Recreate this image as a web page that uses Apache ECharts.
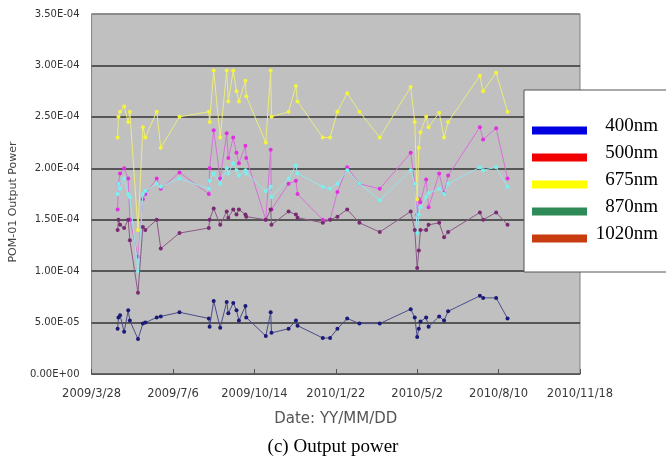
<!DOCTYPE html>
<html>
<head>
<meta charset="utf-8">
<script src="https://cdn.jsdelivr.net/npm/echarts@6/dist/echarts.min.js"></script>
<style>
  html, body { margin: 0; padding: 0; background: #fff; }
  #chart { width: 666px; height: 462px; }
</style>
</head>
<body>
<div id="chart"></div>
<script>
// measurement dates
const dates = [
  '2009/4/29', '2009/4/30', '2009/5/2', '2009/5/7', '2009/5/12', '2009/5/14', '2009/5/24', '2009/5/30',
  '2009/6/2', '2009/6/16', '2009/6/21', '2009/7/14',
  '2009/8/19', '2009/8/20', '2009/8/25', '2009/9/2', '2009/9/10', '2009/9/12', '2009/9/18', '2009/9/22',
  '2009/9/25', '2009/10/3', '2009/10/4',
  '2009/10/28', '2009/11/3', '2009/11/4', '2009/11/25', '2009/12/4', '2009/12/6',
  '2010/1/6', '2010/1/15', '2010/1/24', '2010/2/5', '2010/2/20', '2010/3/17',
  '2010/4/24', '2010/4/29', '2010/5/2', '2010/5/4', '2010/5/6', '2010/5/13', '2010/5/16', '2010/5/29',
  '2010/6/4', '2010/6/9',
  '2010/7/18', '2010/7/22', '2010/8/7', '2010/8/21'
];

// output power, in units of 1E-04
const p400 = [
  0.44, 0.55, 0.57, 0.41, 0.62, 0.52, 0.34, 0.49, 0.50, 0.55, 0.56, 0.60,
  0.54, 0.46, 0.71, 0.45, 0.70, 0.59, 0.69, 0.62, 0.52, 0.66, 0.55,
  0.37, 0.60, 0.40, 0.44, 0.52, 0.47,
  0.35, 0.35, 0.44, 0.54, 0.49, 0.49,
  0.63, 0.55, 0.36, 0.44, 0.51, 0.55, 0.46, 0.56, 0.52, 0.61,
  0.76, 0.74, 0.74, 0.54
];
const p500 = [
  1.60, 1.85, 1.95, 2.00, 1.90, 1.50, 1.14, 1.70, 1.75, 1.90, 1.80, 1.96,
  1.75, 2.00, 2.37, 1.90, 2.34, 2.10, 2.30, 2.15, 2.05, 2.22, 2.10,
  1.50, 2.18, 1.60, 1.85, 1.88, 1.75,
  1.50, 1.50, 1.77, 2.01, 1.85, 1.80,
  2.15, 1.85, 1.55, 1.70, 1.67, 1.89, 1.62, 1.95, 1.76, 1.93,
  2.40, 2.28, 2.39, 1.90
];
const p675 = [
  2.30, 2.50, 2.55, 2.60, 2.45, 2.55, 1.40, 2.40, 2.30, 2.55, 2.20, 2.50,
  2.55, 2.45, 2.95, 2.30, 2.95, 2.65, 2.95, 2.75, 2.65, 2.85, 2.70,
  2.25, 2.95, 2.50, 2.55, 2.80, 2.65,
  2.30, 2.30, 2.55, 2.73, 2.55, 2.30,
  2.79, 2.45, 1.70, 2.20, 2.35, 2.50, 2.40, 2.54, 2.30, 2.45,
  2.90, 2.75, 2.93, 2.55
];
const p870 = [
  1.75, 1.85, 1.80, 1.90, 1.75, 1.72, 1.00, 1.75, 1.78, 1.85, 1.82, 1.90,
  1.80, 1.88, 1.95, 1.85, 2.00, 1.95, 2.05, 1.98, 1.93, 1.98, 1.95,
  1.78, 1.82, 1.72, 1.90, 2.03, 1.95,
  1.82, 1.80, 1.85, 1.98, 1.85, 1.69,
  1.98, 1.85, 1.37, 1.55, 1.62, 1.72, 1.76, 1.80, 1.75, 1.85,
  2.01, 1.98, 2.01, 1.82
];
const p1020 = [
  1.40, 1.50, 1.45, 1.42, 1.50, 1.30, 0.79, 1.43, 1.40, 1.50, 1.22, 1.37,
  1.42, 1.50, 1.61, 1.45, 1.58, 1.52, 1.60, 1.55, 1.60, 1.55, 1.53,
  1.50, 1.60, 1.45, 1.58, 1.55, 1.52,
  1.47, 1.50, 1.53, 1.60, 1.47, 1.38,
  1.58, 1.40, 1.03, 1.20, 1.40, 1.40, 1.45, 1.47, 1.33, 1.38,
  1.57, 1.50, 1.57, 1.45
];

const xTickLabels = ['2009/3/28', '2009/7/6', '2009/10/14', '2010/1/22', '2010/5/2', '2010/8/10', '2010/11/18'];
const names = ['400nm', '500nm', '675nm', '870nm', '1020nm'];
const legendColors = ['#0000e0', '#f00000', '#ffff00', '#2e8b57', '#c83c10'];

// days since 2009/3/28
const t0 = Date.UTC(2009, 2, 28);
function dayOf(s) {
  const [y, m, d] = s.split('/').map(Number);
  return (Date.UTC(y, m - 1, d) - t0) / 86400000;
}
// 3.50E-04 style
function sci(v) {
  return (v * 1e-4).toExponential(2).toUpperCase().replace(/E([+-])(\d)$/, 'E$10$2');
}
function pairs(vals) {
  return dates.map((d, i) => [dayOf(d), vals[i]]);
}

const seriesStyle = [
  { data: p400, item: '#1a1a78', line: '#4c4c8c' },
  { data: p500, item: '#e030e0', line: '#d870d8' },
  { data: p675, item: '#f4f43c', line: '#ecec7c' },
  { data: p870, item: '#78f0f0', line: '#98e4ec' },
  { data: p1020, item: '#7a2a72', line: '#8a5a86' }
];

const chart = echarts.init(document.getElementById('chart'));
chart.setOption({
  animation: false,
  title: {
    text: '(c) Output power',
    left: 'center',
    top: 433,
    textStyle: { fontFamily: 'Liberation Serif', fontSize: 19, fontWeight: 'normal', color: '#000' }
  },
  grid: {
    left: 87, right: 86, top: 14, bottom: 88,
    show: true,
    backgroundColor: '#c0c0c0',
    borderColor: '#808080',
    borderWidth: 1
  },
  legend: {
    orient: 'vertical',
    left: 524,
    top: 90,
    padding: [27, 40, 20, 8],
    itemGap: 0,
    itemWidth: 55,
    itemHeight: 8,
    backgroundColor: '#fff',
    borderColor: '#555',
    borderWidth: 1,
    selectedMode: false,
    data: names.map((n, i) => ({
      name: n,
      icon: 'rect',
      itemStyle: { color: legendColors[i], borderWidth: 0 }
    })),
    formatter: n => '{a|' + n + '}',
    textStyle: {
      rich: {
        a: {
          width: 66, align: 'right', lineHeight: 16, padding: [0, 0, 8, 0],
          fontFamily: 'Liberation Serif', fontSize: 19, color: '#000'
        }
      }
    }
  },
  xAxis: {
    type: 'value',
    min: 0,
    max: 600,
    interval: 100,
    name: 'Date: YY/MM/DD',
    nameLocation: 'middle',
    nameGap: 38,
    nameTextStyle: { fontFamily: 'DejaVu Sans', fontSize: 15, color: '#555' },
    axisLine: { show: true, lineStyle: { color: '#555' } },
    axisTick: { show: true, inside: true, length: 5, lineStyle: { color: '#555' } },
    axisLabel: {
      margin: 14,
      fontFamily: 'DejaVu Sans',
      fontSize: 11.5,
      color: '#383838',
      formatter: v => xTickLabels[Math.round(v / 100)]
    },
    splitLine: { show: false }
  },
  yAxis: {
    type: 'value',
    min: 0,
    max: 3.5,
    interval: 0.5,
    name: 'POM-01 Output Power',
    nameLocation: 'middle',
    nameGap: 72,
    nameTextStyle: { fontFamily: 'DejaVu Sans', fontSize: 11, color: '#444', padding: [0, 16, 0, 0] },
    axisLine: { show: false },
    axisTick: { show: false },
    axisLabel: {
      margin: 12,
      fontFamily: 'DejaVu Sans',
      fontSize: 10,
      color: '#333',
      formatter: v => sci(v)
    },
    splitLine: {
      show: true,
      lineStyle: {
        color: ['#555', '#333', '#333', '#333', '#333', '#333', '#333', '#808080'],
        width: 1.5
      }
    }
  },
  series: seriesStyle.map((s, i) => ({
    name: names[i],
    type: 'line',
    data: pairs(s.data),
    symbol: 'circle',
    symbolSize: 4,
    showSymbol: true,
    itemStyle: { color: s.item },
    lineStyle: { color: s.line, width: 1 },
    emphasis: { disabled: true },
    z: 2 + i
  }))
});
</script>
</body>
</html>
